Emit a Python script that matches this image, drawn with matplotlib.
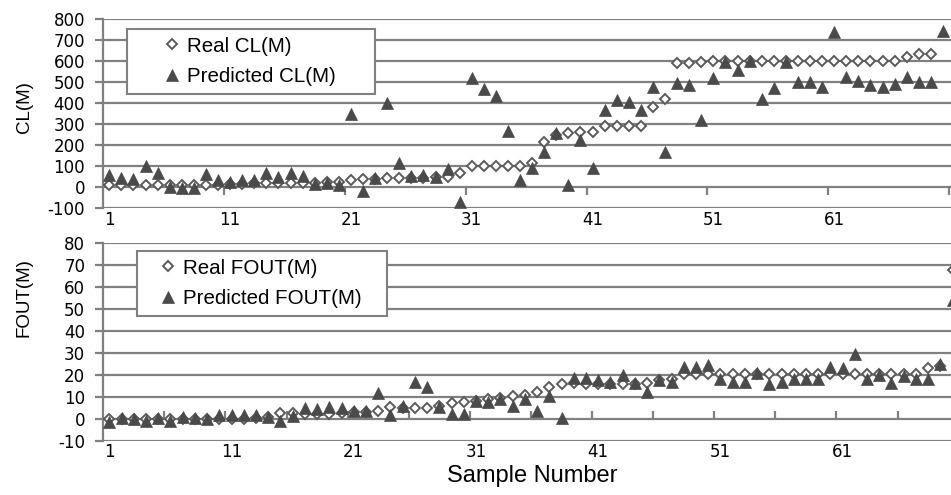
import numpy as np
import matplotlib.pyplot as plt
from matplotlib.font_manager import FontProperties

plt.rcParams['font.family'] = ['Liberation Sans', 'DejaVu Sans']
plt.rcParams['axes.unicode_minus'] = False

# sample numbers 1..70
samples = np.arange(1, 71)
tick_labels = ['1', '11', '21', '31', '41', '51', '61']
tick_pos = [1, 11, 21, 31, 41, 51, 61]

# CL(M)
real_cl = [10, 10, 10, 10, 10, 10, 10, 10, 10, 10,
           12, 12, 20, 20, 20, 20, 20, 20, 22, 25,
           33, 36, 40, 45, 45, 45, 45, 48, 50, 65,
           100, 100, 100, 100, 100, 113, 215, 247, 255, 260,
           263, 290, 290, 290, 290, 380, 420, 590, 590, 595,
           602, 602, 602, 602, 602, 602, 602, 602, 602, 602,
           602, 602, 602, 602, 602, 602, 620, 635, 635]
pred_cl = [57, 41, 36, 100, 65, 0, -5, -5, 60, 33,
           25, 33, 33, 68, 49, 65, 54, 13, 17, 8,
           350, -17, 41, 398, 113, 52, 57, 46, 84, -70,
           517, 465, 433, 268, 33, 89, 168, 255, 10, 224,
           89, 367, 414, 406, 367, 475, 168, 494, 486, 319,
           517, 597, 557, 602, 417, 470, 597, 501, 501, 475,
           737, 522, 506, 486, 475, 490, 525, 501, 501, 745]

# FOUT(M)
real_fout = [0, 0, 0, 0, 0, 0, 0, 0, 0, 0,
             0, 0, 0.5, 1, 2.5, 2.5, 2, 2, 2, 2.5,
             3, 3, 3.5, 5.5, 5, 5, 5, 6, 7, 7.5,
             8, 8.8, 9.5, 10.6, 11, 12.2, 14.6, 15.7, 16.5, 16,
             15.7, 15.7, 15.7, 15.7, 16.4, 17.7, 18, 20.2, 20.2, 20.2,
             20.5, 20.5, 20.5, 20.5, 20.5, 20.5, 20.5, 20.5, 20.5, 20.5,
             20.5, 20.5, 20.5, 20.5, 20.5, 20.5, 20.5, 23, 24, 68]
pred_fout = [-1.5, 0.5, 0, -1, 0.5, -1, 1, 0.5, 0, 1.5,
             1.5, 1.5, 1.5, 1, -1, 1.2, 5, 4.3, 5.3, 5,
             3.5, 3.5, 11.6, 1.5, 6, 16.7, 14.6, 5.5, 2, 2,
             8, 7.5, 8.8, 5.8, 8.8, 3.5, 10.4, 0.5, 18.5, 18.5,
             17.7, 16.7, 19.8, 16.4, 12.3, 17.7, 16.9, 23.5, 23.6, 24.6,
             18.3, 16.7, 16.7, 20.7, 15.7, 16.7, 18, 18, 18, 23.7,
             23.3, 29.4, 18.3, 19.8, 16.4, 19.5, 18.3, 18, 24.8, 54]

GRID = '#808080'
tick_font = FontProperties(family='DejaVu Sans', size=12)


def draw_panel(ax, real, pred, names, ylo, yhi, ystep, xmax, tick_every,
               tick_dir, leg_box, handle_len, text_pad):
    ax.plot(samples[:len(real)], real, ls='none', marker='D', ms=4.8,
            mfc='white', mec='#5a5a5a', mew=1.4, label=names[0], zorder=3)
    ax.plot(samples[:len(pred)], pred, ls='none', marker='^', ms=8.8,
            mfc='#4a4a4a', mec='#4a4a4a', mew=0.5, label=names[1], zorder=4)
    ax.set_xlim(0.5, xmax)
    ax.set_ylim(ylo, yhi)
    yt = np.arange(ylo, yhi + 1, ystep)
    ax.set_yticks(yt, labels=[str(v) for v in yt], fontproperties=tick_font)
    ax.grid(axis='y', color=GRID, lw=1.6)
    ax.set_axisbelow(True)
    for s in ['top', 'right', 'bottom']:
        ax.spines[s].set_visible(False)
    ax.spines['left'].set_color(GRID)
    ax.spines['left'].set_linewidth(1.6)
    ax.tick_params(axis='y', length=6, width=1.6, color=GRID, pad=7)
    ax.set_xticks(tick_pos, labels=tick_labels, fontproperties=tick_font)
    ax.tick_params(axis='x', length=0, pad=2)

    # tick marks sit on the zero line (1/9 of the height in both panels)
    sec = ax.secondary_xaxis(1 / 9)
    sec.set_xticks(np.arange(tick_every + 0.5, 71, tick_every))
    sec.tick_params(axis='x', length=6, width=1.6, color=GRID,
                    direction=tick_dir, labelbottom=False)
    for s in sec.spines.values():
        s.set_visible(False)

    leg = ax.legend(loc='upper left', bbox_to_anchor=leg_box, mode='expand',
                    borderaxespad=0, fancybox=False, edgecolor=GRID,
                    framealpha=1, fontsize=14.8, borderpad=0.37,
                    handlelength=handle_len, handletextpad=text_pad,
                    labelspacing=0.55, numpoints=1)
    leg.get_frame().set_linewidth(1.5)


fig = plt.figure(figsize=(9.51, 4.95), dpi=100)
ax1 = fig.add_axes([0.1086, 0.5798, 0.8914, 0.3818])
ax2 = fig.add_axes([0.1086, 0.1097, 0.8914, 0.3988])

draw_panel(ax1, real_cl, pred_cl, ['Real CL(M)', 'Predicted CL(M)'],
           -100, 800, 100, 70.67, 10, 'out',
           (0.028, 0, 0.2926, 0.947), 3.64, -1.07)
draw_panel(ax2, real_fout, pred_fout, ['Real FOUT(M)', 'Predicted FOUT(M)'],
           -10, 80, 10, 69.87, 5, 'in',
           (0.0398, 0, 0.295, 0.961), 2.24, -0.37)

ax1.set_ylabel('CL(M)', fontsize=13.5)
ax1.yaxis.set_label_coords(-0.083, 0.532)
ax2.set_ylabel('FOUT(M)', fontsize=13.5)
ax2.yaxis.set_label_coords(-0.083, 0.725)
ax2.set_xlabel('Sample Number', fontsize=17)
ax2.xaxis.set_label_coords(0.5057, -0.125)

fig.savefig('out.png', dpi=100)
